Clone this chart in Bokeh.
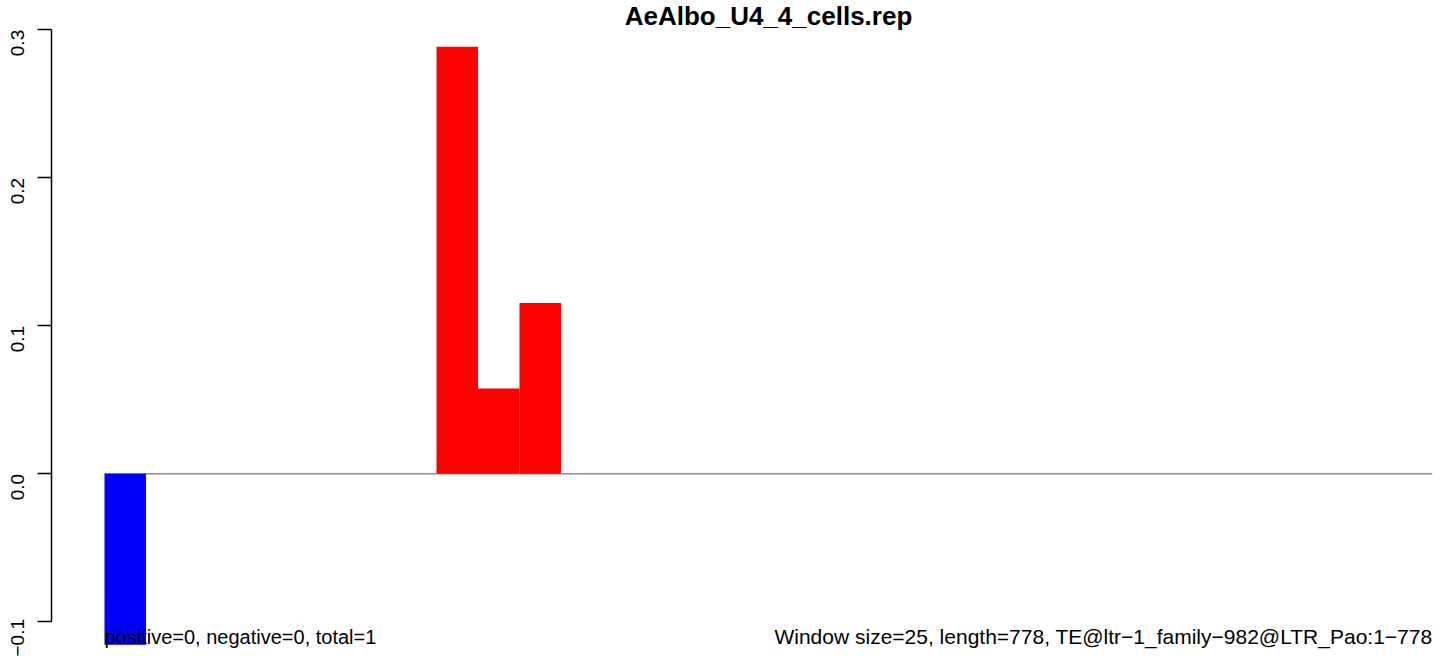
import math
from bokeh.plotting import figure
from bokeh.models import Range1d, FixedTicker, Label, ColumnDataSource
from bokeh.embed import file_html
from bokeh.resources import INLINE

# ---- data ----
title_text = "AeAlbo_U4_4_cells.rep"
window_values = [-0.1154, 0, 0, 0, 0, 0, 0, 0,
                 0.2885, 0.0577, 0.1154, 0, 0, 0, 0, 0,
                 0, 0, 0, 0, 0, 0, 0, 0,
                 0, 0, 0, 0, 0, 0, 0, 0]
y_ticks = [-0.1, 0.0, 0.1, 0.2, 0.3]
y_tick_labels = ["\u22120.1", "0.0", "0.1", "0.2", "0.3"]
left_note = "positive=0, negative=0, total=1"
right_note = "Window size=25, length=778, TE@ltr\u22121_family\u2212982@LTR_Pao:1\u2212778"

n = len(window_values)
xs = [i + 0.5 for i in range(n)]
colors = ["#FF0000" if v > 0 else "#0000FF" for v in window_values]
src = ColumnDataSource(dict(x=xs, top=window_values, color=colors))

p = figure(width=1436, height=656, output_backend="svg", toolbar_location=None,
           x_range=Range1d(-1.277, n), y_range=Range1d(-0.1234, 0.3198),
           x_axis_location=None, min_border_left=51, min_border_right=4,
           min_border_top=0, min_border_bottom=0)
p.outline_line_color = None
p.xgrid.visible = False
p.ygrid.visible = False
p.background_fill_color = "white"

# zero line across the windows
p.segment(x0=[0], y0=[0], x1=[n], y1=[0], line_color="#8c8c8c", line_width=1.5)

p.vbar(x="x", top="top", bottom=0, width=1.0, fill_color="color",
       line_color=None, source=src)

ax = p.yaxis[0]
ax.ticker = FixedTicker(ticks=y_ticks)
ax.major_label_overrides = {t: l for t, l in zip(y_ticks, y_tick_labels)}
ax.bounds = (min(y_ticks), max(y_ticks))
ax.minor_tick_line_color = None
ax.major_tick_out = 14
ax.major_tick_in = 0
ax.major_label_standoff = 20
ax.major_label_orientation = math.pi / 2
ax.major_label_text_font = "Liberation Sans"
ax.major_label_text_font_size = "19px"
ax.major_label_text_color = "black"
ax.axis_line_width = 1.5
ax.major_tick_line_width = 1.5

p.add_layout(Label(x=n / 2, y=641, x_units="data", y_units="screen", text=title_text,
                   text_font="Liberation Sans", text_font_style="bold", text_color="black",
                   text_font_size="26px", text_align="center", text_baseline="middle"))
p.add_layout(Label(x=0, y=20, x_units="data", y_units="screen", text=left_note,
                   text_font="Liberation Sans", text_font_size="20px", text_color="black",
                   text_align="left", text_baseline="middle"))
p.add_layout(Label(x=n, y=20, x_units="data", y_units="screen", text=right_note,
                   text_font="Liberation Sans", text_font_size="21px", text_color="black",
                   text_align="right", text_baseline="middle"))

open("out.html", "w").write(file_html(p, INLINE))
